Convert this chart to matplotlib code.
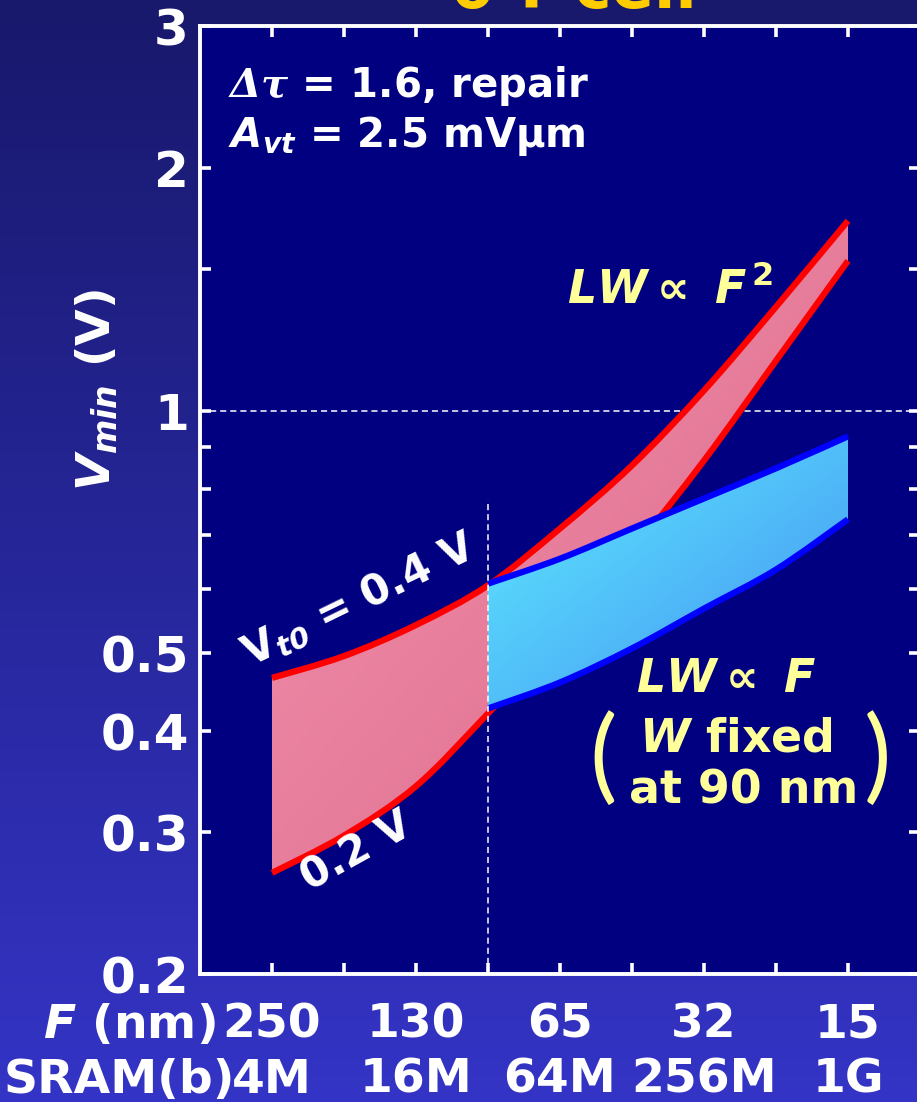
import numpy as np
import matplotlib
matplotlib.use("Agg")
import matplotlib.pyplot as plt
from matplotlib.colors import LinearSegmentedColormap
from matplotlib.ticker import FixedLocator, FixedFormatter, NullFormatter
from matplotlib.path import Path
from matplotlib.patches import PathPatch

plt.rcParams.update({
    "font.family": ["DejaVu Sans"],
    "font.weight": "bold",
    "mathtext.fontset": "custom",
    "mathtext.rm": "DejaVu Sans:bold",
    "mathtext.bf": "DejaVu Sans:bold",
    "mathtext.it": "DejaVu Sans:italic:bold",
    "mathtext.bfit": "DejaVu Sans:italic:bold",
    "mathtext.sf": "DejaVu Serif:italic",
})

# ---- data -------------------------------------------------------------
# technology nodes on the x axis (index positions), labelled every other node
node_pos = np.arange(9)
label_pos = [0, 2, 4, 6, 8]
feature_labels = ["250", "130", "65", "32", "15"]
sram_labels = ["4M", "16M", "64M", "256M", "1G"]

# LW ~ F^2 scaling: Vmin for Vt0 = 0.4 V and 0.2 V
vmin_f2_vt04 = [0.466, 0.496, 0.542, 0.607, 0.714, 0.855, 1.059, 1.345, 1.72]
vmin_f2_vt02 = [0.267, 0.297, 0.342, 0.421, 0.525, 0.668, 0.867, 1.153, 1.534]

# LW ~ F scaling (W fixed at 90 nm), from the 90 nm node onward
fixed_w_pos = np.arange(3, 9)
vmin_f_vt04 = [0.610, 0.655, 0.714, 0.778, 0.848, 0.929]
vmin_f_vt02 = [0.427, 0.460, 0.507, 0.568, 0.635, 0.733]

y_major = [0.2, 0.3, 0.4, 0.5, 1, 2, 3]
y_major_labels = ["0.2", "0.3", "0.4", "0.5", "1", "2", "3"]
y_minor = [0.6, 0.7, 0.8, 0.9, 1.5]

# ---- figure -----------------------------------------------------------
W, H = 917, 1102
fig = plt.figure(figsize=(W / 100, H / 100), dpi=100)

bg = fig.add_axes([0, 0, 1, 1], zorder=-10)
top_c = np.array([24, 24, 108]) / 255
bot_c = np.array([52, 52, 198]) / 255
t = np.linspace(0, 1, 256)[:, None, None]
grad = top_c[None, None, :] * (1 - t) + bot_c[None, None, :] * t
bg.imshow(grad, aspect="auto", extent=[0, 1, 0, 1], interpolation="bilinear")
bg.set_axis_off()

ax_l, ax_b, ax_r, ax_t = 200, 974, 920, 26
ax = fig.add_axes([ax_l / W, 1 - ax_b / H, (ax_r - ax_l) / W, (ax_b - ax_t) / H])
ax.set_facecolor("#000080")
ax.set_yscale("log")
ax.set_xlim(-1, 9)
ax.set_ylim(0.2, 3)


def px_to_axes(x, y):
    return (x - ax_l) / (ax_r - ax_l), (ax_b - y) / (ax_b - ax_t)


def smooth_curve(x, y):
    """Cubic Bezier pieces through every (x, y) point, smoothed in log-y space."""
    p = np.column_stack([np.asarray(x, float), np.log10(y)])
    n = len(p)
    verts = [p[0]]
    codes = [Path.MOVETO]
    for i in range(n - 1):
        p0 = p[i - 1] if i > 0 else p[i]
        p1, p2 = p[i], p[i + 1]
        p3 = p[i + 2] if i + 2 < n else p[i + 1]
        verts += [p1 + (p2 - p0) / 6, p2 - (p3 - p1) / 6, p2]
        codes += [Path.CURVE4] * 3
    verts = np.array(verts)
    verts[:, 1] = 10 ** verts[:, 1]
    return verts, codes


def band(x, lo, hi, line_color, c0, c1, z):
    vu, cu = smooth_curve(x, hi)
    vl, cl = smooth_curve(x, lo)
    # closed outline: upper curve forward, lower curve backward
    outline_v = np.vstack([vu, vl[::-1], vu[:1]])
    outline_c = cu + [Path.LINETO] + [Path.CURVE4] * (len(vl) - 1) + [Path.CLOSEPOLY]
    outline = Path(outline_v, outline_c)

    to_axes = ax.transData + ax.transAxes.inverted()
    v = to_axes.transform(outline_v)
    x0, y0 = v.min(axis=0)
    x1, y1 = v.max(axis=0)
    gx, gy = np.meshgrid(np.linspace(0, 1, 200), np.linspace(0, 1, 200))
    cmap = LinearSegmentedColormap.from_list("band", [c0, c1])
    im = ax.imshow((gx + gy) / 2, cmap=cmap, extent=[x0, x1, y0, y1],
                   origin="upper", transform=ax.transAxes, aspect="auto",
                   zorder=z, interpolation="bilinear")
    im.set_clip_path(outline, ax.transData)

    for vv, cc in ((vu, cu), (vl, cl)):
        ax.add_patch(PathPatch(Path(vv, cc), fill=False, edgecolor=line_color,
                               lw=4.5, zorder=z + 0.5, capstyle="butt"))


# reference dashed line at 1 V
ax.axhline(1.0, color="white", lw=1.1, ls=(0, (4, 2.6)), zorder=1)

# LW ~ F^2 band
band(node_pos, vmin_f2_vt02, vmin_f2_vt04, "#FF0000", "#F494B0", "#DA6888", 2)
# LW ~ F band (W fixed)
band(fixed_w_pos, vmin_f_vt02, vmin_f_vt04, "#0000FF", "#5EEEFF", "#4490F2", 4)

ax.plot([fixed_w_pos[0], fixed_w_pos[0]], [0.2, 0.775], color="white", lw=1.1,
        ls=(0, (4, 2.6)), zorder=6)

ax.set_xlim(-1, 9)
ax.set_ylim(0.2, 3)

# ---- axes styling -----------------------------------------------------
for s in ax.spines.values():
    s.set_color("white")
    s.set_linewidth(2.8)

ax.xaxis.set_major_locator(FixedLocator(node_pos))
ax.xaxis.set_major_formatter(NullFormatter())
ax.tick_params(axis="x", which="both", direction="in", top=True, bottom=True,
               length=8, width=2.6, color="white", labelbottom=False)

ax.yaxis.set_major_locator(FixedLocator(y_major))
ax.yaxis.set_major_formatter(FixedFormatter(y_major_labels))
ax.yaxis.set_minor_locator(FixedLocator(y_minor))
ax.yaxis.set_minor_formatter(NullFormatter())
ax.tick_params(axis="y", which="both", direction="in", left=True, right=True,
               length=8, width=2.6, color="white", labelcolor="white",
               labelsize=36, pad=8)
for lab in ax.get_yticklabels():
    lab.set_fontweight("bold")

xt = ax.get_xaxis_transform()
for p, f, s in zip(label_pos, feature_labels, sram_labels):
    ax.text(p, -0.0675, f, transform=xt, ha="center", va="baseline",
            color="white", fontsize=34, fontweight="bold", clip_on=False)
    ax.text(p, -0.1255, s, transform=xt, ha="center", va="baseline",
            color="white", fontsize=34, fontweight="bold", clip_on=False)

fig.text(216 / W, 1 - 1038 / H, r"$\mathbfit{F}$" + " (nm)", ha="right",
         va="baseline", color="white", fontsize=34, fontweight="bold")
fig.text(4 / W, 1 - 1093 / H, "SRAM(b)", ha="left", va="baseline",
         color="white", fontsize=34, fontweight="bold")

ax.set_ylabel(r"$\mathbfit{V}_{\mathbfit{min}}$" + " (V)", color="white",
              fontsize=34, fontweight="bold")
ax.yaxis.set_label_coords(*px_to_axes(120, 390))

# title, mostly above the canvas edge
fig.text(573 / W, 1 - 8 / H, "6-T cell", ha="center", va="baseline",
         color="#FFCC00", fontsize=45, fontweight="bold")

# ---- annotations ------------------------------------------------------
ax.text(*px_to_axes(228, 97), r"$\mathsf{\Delta\tau}$" + " = 1.6, repair",
        transform=ax.transAxes, ha="left", va="baseline", color="white",
        fontsize=29, fontweight="bold")
ax.text(*px_to_axes(228, 147), r"$\mathbfit{A}_{\mathbfit{vt}}$" + " = 2.5 mVμm",
        transform=ax.transAxes, ha="left", va="baseline", color="white",
        fontsize=29, fontweight="bold")

yellow = "#FFFF99"
ax.text(*px_to_axes(670, 303), r"$\mathbfit{LW}\propto\ \mathbfit{F}^{\,\mathbf{2}}$",
        transform=ax.transAxes, ha="center", va="baseline", color=yellow,
        fontsize=33)
ax.text(*px_to_axes(726, 692), r"$\mathbfit{LW}\propto\ \mathbfit{F}$",
        transform=ax.transAxes, ha="center", va="baseline", color=yellow,
        fontsize=33)
ax.text(*px_to_axes(736, 752), r"$\mathbfit{W}$" + " fixed",
        transform=ax.transAxes, ha="center", va="baseline", color=yellow,
        fontsize=33, fontweight="bold")
ax.text(*px_to_axes(744, 803), "at 90 nm",
        transform=ax.transAxes, ha="center", va="baseline", color=yellow,
        fontsize=33, fontweight="bold")
ax.text(*px_to_axes(603, 760), "(", transform=ax.transAxes, ha="center",
        va="center", color=yellow, fontsize=74, fontweight="normal",
        family=["Lato", "DejaVu Sans"])
ax.text(*px_to_axes(877, 760), ")", transform=ax.transAxes, ha="center",
        va="center", color=yellow, fontsize=74, fontweight="normal",
        family=["Lato", "DejaVu Sans"])

ax.text(*px_to_axes(250, 667), r"V$_{\mathbfit{t0}}$" + " = 0.4 V",
        transform=ax.transAxes, ha="left", va="baseline", rotation=26,
        rotation_mode="anchor", color="white", fontsize=30, fontweight="bold")
ax.text(*px_to_axes(310, 892), "0.2 V", transform=ax.transAxes, ha="left",
        va="baseline", rotation=29, rotation_mode="anchor", color="white",
        fontsize=30, fontweight="bold")

fig.savefig("out.png", dpi=100)
